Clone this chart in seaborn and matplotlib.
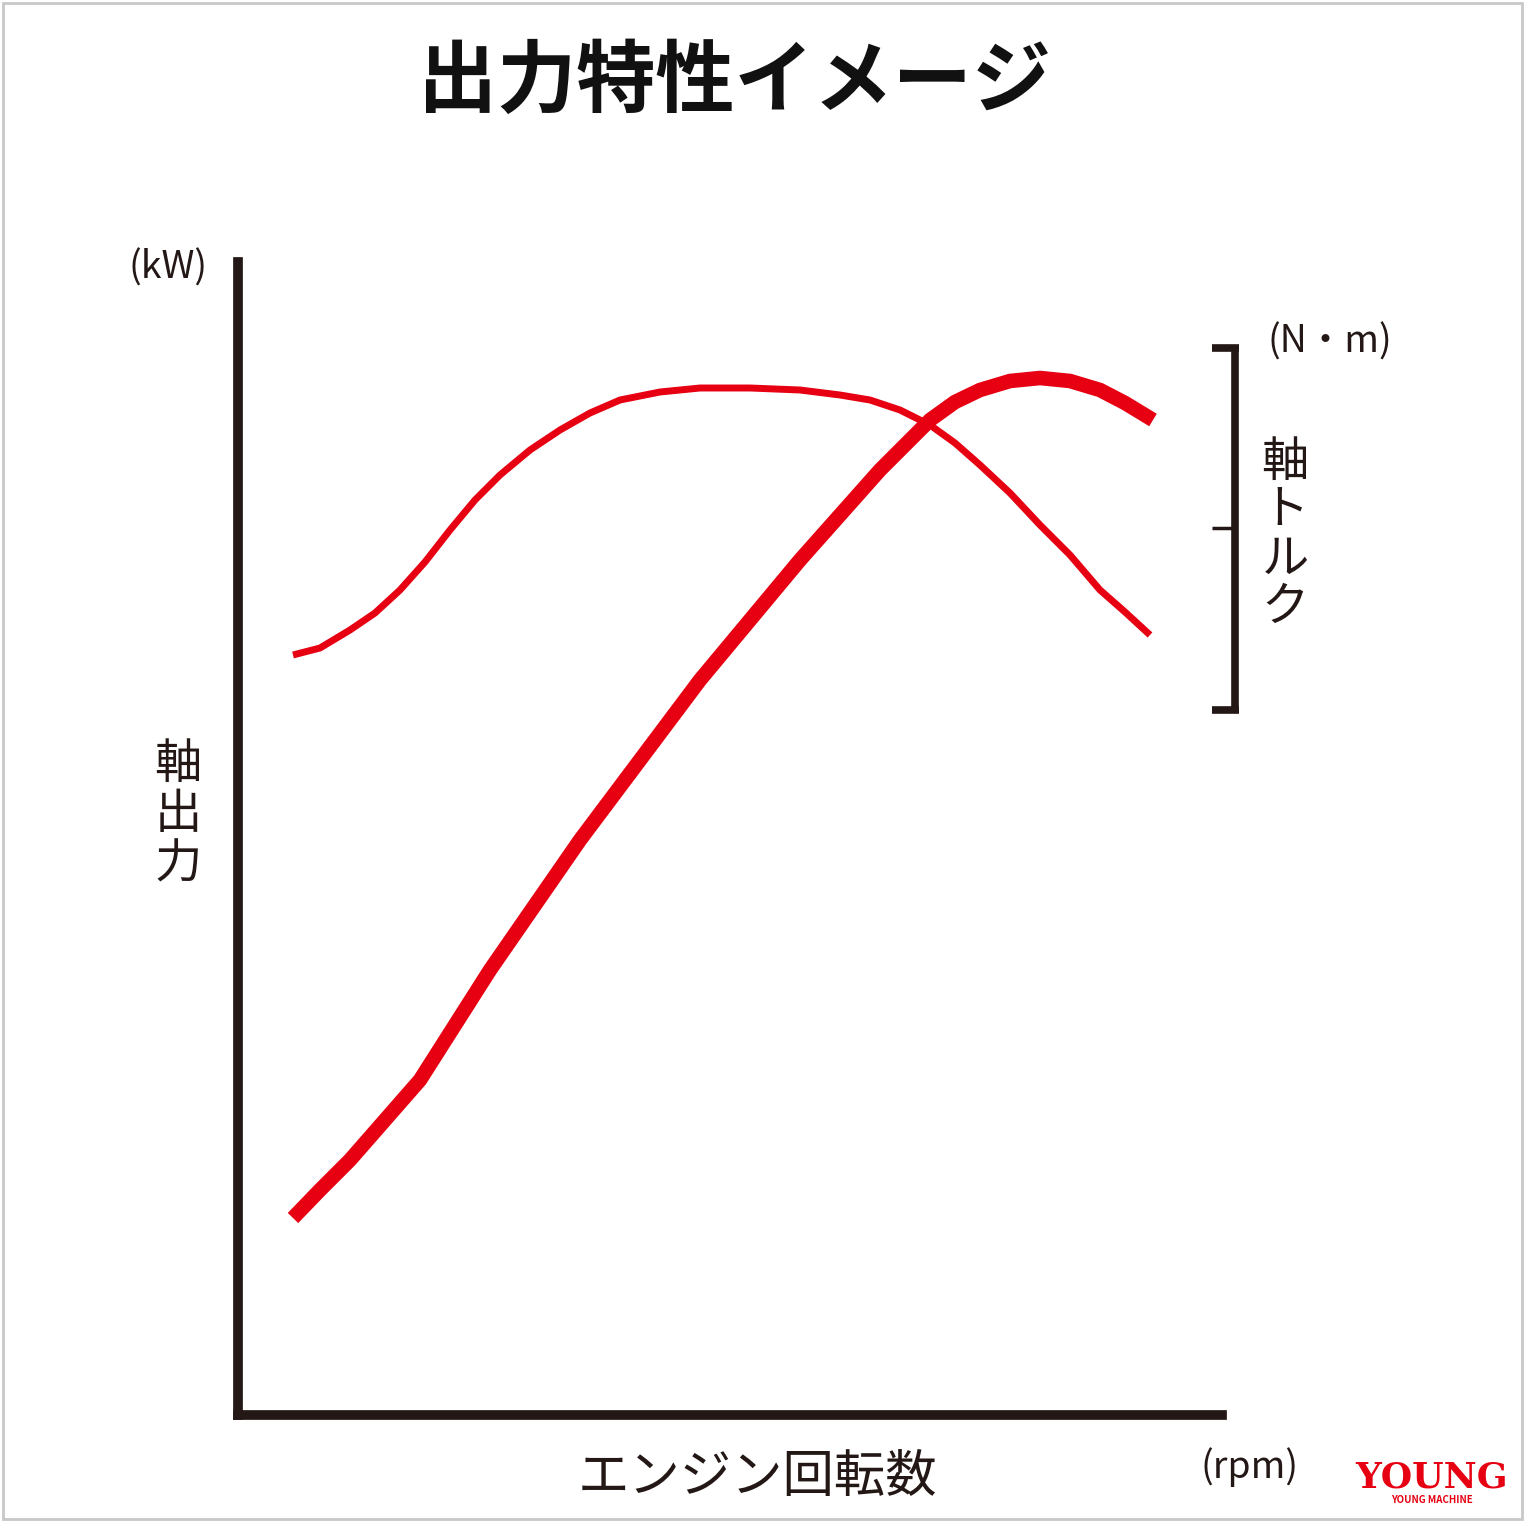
import matplotlib
matplotlib.use("Agg")
import matplotlib.pyplot as plt
import seaborn as sns
from matplotlib.lines import Line2D
from matplotlib.patches import Rectangle

sns.set_theme(style="white")
plt.rcParams['font.family'] = ['Noto Sans CJK JP', 'DejaVu Sans']

# Data (arbitrary units)
power_rpm = [55, 82, 112, 147, 182, 217, 252, 297, 342, 402, 462, 512, 562, 602, 642, 667, 692, 717, 742, 772, 802, 832, 862, 887, 915]
power_kw = [197, 225, 255, 295, 335, 390, 445, 510, 575, 655, 735, 795, 855, 900, 945, 970, 995, 1013, 1025, 1034, 1037, 1034, 1025, 1012, 995]
torque_rpm = [55, 82, 112, 137, 162, 187, 212, 237, 262, 292, 322, 352, 382, 422, 462, 512, 562, 602, 632, 662, 692, 717, 742, 772, 802, 832, 862, 887, 912]
torque_nm = [760, 767, 785, 802, 825, 853, 885, 915, 940, 965, 985, 1002, 1015, 1023, 1027, 1027, 1025, 1020, 1015, 1005, 990, 972, 950, 922, 890, 860, 825, 803, 780]

W, H = 1525, 1522
fig = plt.figure(figsize=(W/100, H/100), dpi=100)
fig.patches.append(Rectangle((0.002, 0.002), 0.996, 0.996, transform=fig.transFigure,
                             fill=False, edgecolor='#c8c8c8', linewidth=2))
ax = fig.add_axes([238/W, (H-1415)/H, (1222-238)/W, (1415-262)/H])
red = '#e60012'
dark = '#231815'
sns.lineplot(x=power_rpm, y=power_kw, ax=ax, color=red, linewidth=10.5, sort=False,
             solid_capstyle='butt')
sns.lineplot(x=torque_rpm, y=torque_nm, ax=ax, color=red, linewidth=5, sort=False,
             solid_capstyle='butt')
ax.set_xlim(0, 984); ax.set_ylim(0, 1153)
ax.set_xticks([]); ax.set_yticks([])
for s in ['top', 'right']:
    ax.spines[s].set_visible(False)
for s in ['left', 'bottom']:
    ax.spines[s].set_color(dark); ax.spines[s].set_linewidth(7)

def fx(px): return px/W
def fy(py): return 1-py/H
for xs, ys in [([1235, 1235], [348, 710]), ([1212, 1239], [348, 348]),
               ([1212, 1239], [710, 710]), ([1212, 1235], [528, 528])]:
    fig.add_artist(Line2D([fx(x) for x in xs], [fy(y) for y in ys], color=dark,
                          linewidth=5.5 if ys[0] != 528 else 2.5, solid_capstyle='butt'))

fig.text(fx(735), fy(82), '出力特性イメージ', ha='center', va='center', fontsize=57,
         fontweight='bold', color='#111')
fig.text(fx(168), fy(268), '(kW)', ha='center', va='center', fontsize=27, color=dark)
fig.text(fx(178), fy(815), '軸\n出\n力', ha='center', va='center', fontsize=34,
         color=dark, linespacing=1.05)
fig.text(fx(1330), fy(342), '(N・m)', ha='center', va='center', fontsize=27, color=dark)
fig.text(fx(1285), fy(535), '軸\nト\nル\nク', ha='center', va='center', fontsize=34,
         color=dark, linespacing=1.0)
fig.text(fx(757), fy(1477), 'エンジン回転数', ha='center', va='center', fontsize=37, color=dark)
fig.text(fx(1250), fy(1467), '(rpm)', ha='center', va='center', fontsize=27, color=dark)
fig.text(fx(1432), fy(1478), 'YOUNG', ha='center', va='center', fontsize=26,
         fontweight='heavy', color=red, family=['DejaVu Serif'])
fig.text(fx(1432), fy(1500), 'YOUNG MACHINE', ha='center', va='center', fontsize=7,
         fontweight='bold', color=red)
fig.savefig('out.png', dpi=100)
